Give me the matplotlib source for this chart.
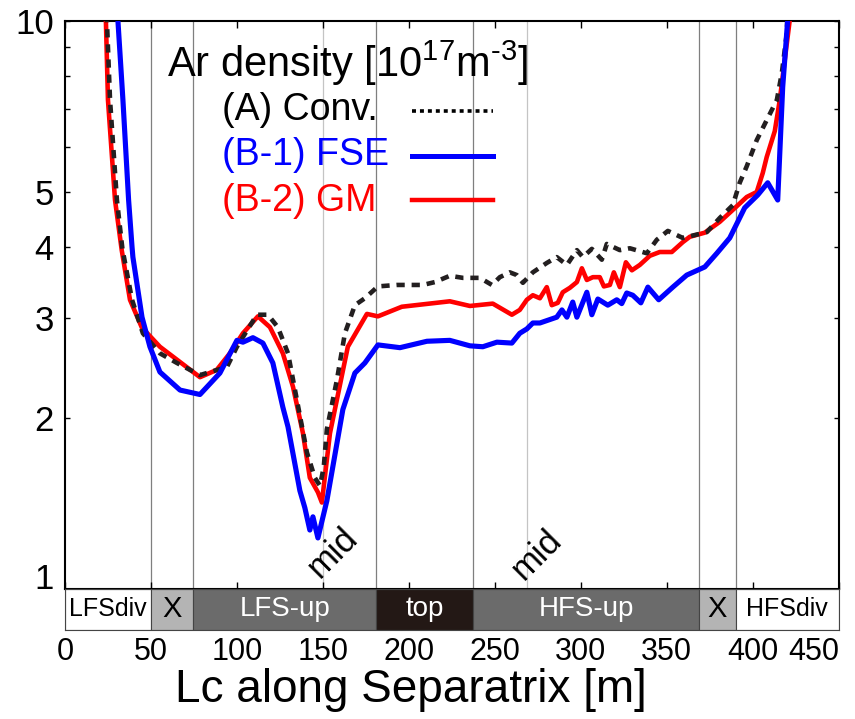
import matplotlib
matplotlib.use('Agg')
import matplotlib.pyplot as plt
from matplotlib.ticker import FixedLocator, NullFormatter

plt.rcParams['font.family'] = ['Liberation Sans', 'DejaVu Sans']
plt.rcParams['mathtext.default'] = 'regular'

# (A) Conv. 黒点線
conv_x = [23.5, 24.4, 26.2, 30.2, 33.4, 39.0, 45.3, 55.2, 65.1, 78.5, 88.4, 94.2, 100.0, 111.6, 118.0,
          123.8, 129.7, 134.9, 140.7, 145.3, 148.3, 150.5, 152.3, 158.1, 162.8, 168.6, 174.4, 182.0, 193.0,
          208.1, 215.1, 223.8, 231.4, 241.3, 248.3, 252.9, 258.7, 262.8, 266.3, 272.1, 280.2, 286.0, 291.9,
          297.7, 301.2, 306.4, 312.2, 315.1, 322.7, 328.5, 338.4, 344.2, 350.6, 359.3, 369.2, 373.3, 380.8,
          388.4, 392.4, 396.5, 402.3, 408.1, 414.0, 416.9, 419.8, 420.6]
conv_y = [11.5, 10.0, 7.26, 4.84, 3.97, 3.23, 2.82, 2.60, 2.50, 2.38, 2.43, 2.46, 2.67, 3.04, 3.04,
          2.89, 2.60, 2.15, 1.74, 1.57, 1.52, 1.64, 1.91, 2.33, 2.82, 3.16, 3.25, 3.41, 3.43,
          3.43, 3.47, 3.56, 3.53, 3.53, 3.43, 3.54, 3.61, 3.57, 3.46, 3.61, 3.75, 3.84, 3.72,
          3.95, 3.84, 3.97, 3.80, 4.05, 3.95, 3.98, 3.90, 4.12, 4.27, 4.15, 4.22, 4.25, 4.50,
          4.74, 5.19, 5.55, 6.17, 6.69, 7.26, 8.10, 9.52, 11.5]

# (B-1) FSE 青
fse_x = [30.2, 30.8, 33.7, 37.0, 39.0, 39.5, 44.8, 49.4, 55.2, 66.9, 78.5, 90.1, 100.0, 103.5, 109.3,
         115.1, 120.9, 126.7, 129.7, 136.6, 139.5, 142.4, 144.2, 147.1, 152.3, 161.6, 168.6, 174.4, 182.0,
         194.8, 210.5, 223.8, 235.5, 243.0, 251.2, 259.9, 264.5, 268.6, 272.1, 276.2, 286.0, 289.0, 291.9,
         295.3, 297.7, 303.5, 306.4, 309.9, 315.7, 320.9, 323.8, 326.7, 330.2, 334.9, 339.0, 345.3, 353.5,
         361.6, 372.1, 379.1, 386.6, 395.3, 402.9, 408.7, 414.5, 417.4, 420.3, 420.6]
fse_y = [11.5, 10.0, 7.26, 4.84, 4.00, 3.84, 3.01, 2.67, 2.41, 2.24, 2.20, 2.40, 2.74, 2.72, 2.77,
         2.71, 2.50, 2.09, 1.93, 1.49, 1.39, 1.27, 1.34, 1.23, 1.43, 2.07, 2.40, 2.50, 2.69,
         2.66, 2.73, 2.74, 2.68, 2.67, 2.72, 2.71, 2.82, 2.87, 2.94, 2.94, 3.01, 3.10, 3.01,
         3.20, 3.01, 3.33, 3.04, 3.24, 3.16, 3.23, 3.18, 3.32, 3.29, 3.19, 3.40, 3.23, 3.40,
         3.57, 3.69, 3.90, 4.15, 4.69, 4.94, 5.19, 4.84, 7.65, 10.04, 11.5]

# (B-2) GM 赤
gm_x = [22.5, 23.8, 25.0, 29.1, 33.0, 37.8, 44.6, 55.2, 78.5, 88.2, 95.9, 103.5, 112.2, 119.2, 126.7,
        132.6, 138.4, 142.4, 147.1, 149.4, 154.1, 164.5, 175.6, 182.0, 195.9, 223.8, 235.5, 248.8, 259.9,
        264.5, 268.6, 272.1, 276.2, 280.2, 283.1, 286.6, 289.5, 293.6, 297.7, 300.6, 303.5, 307.0, 311.0,
        313.4, 316.9, 319.2, 322.7, 326.2, 329.7, 334.3, 340.1, 345.9, 352.9, 359.3, 363.4, 372.1, 380.8,
        388.4, 396.5, 402.3, 405.8, 408.1, 412.8, 415.7, 418.6, 421.5, 422.5]
gm_y = [11.5, 10.0, 7.26, 4.84, 3.95, 3.23, 2.89, 2.67, 2.36, 2.43, 2.60, 2.82, 3.02, 2.89, 2.60,
        2.27, 1.88, 1.57, 1.48, 1.42, 1.88, 2.67, 3.05, 3.02, 3.14, 3.21, 3.15, 3.18, 3.04,
        3.10, 3.23, 3.29, 3.25, 3.40, 3.16, 3.19, 3.33, 3.39, 3.47, 3.67, 3.50, 3.54, 3.54,
        3.41, 3.43, 3.61, 3.40, 3.76, 3.64, 3.72, 3.86, 3.92, 3.92, 4.08, 4.17, 4.24, 4.43,
        4.65, 4.90, 5.00, 5.40, 5.76, 6.40, 7.26, 8.54, 10.04, 11.5]

# 領域区分（下の帯）
region_names = ['LFSdiv', 'X', 'LFS-up', 'top', 'HFS-up', 'X', 'HFSdiv']
region_edges = [0, 50, 74.5, 181, 237.5, 369, 390, 450]
region_face = ['white', '#b4b4b4', '#6b6b6b', '#231815', '#6b6b6b', '#b4b4b4', 'white']
region_text = ['black', 'black', 'white', 'white', 'white', 'black', 'black']
region_size = [18, 21, 20, 20, 20, 21, 18]
mid_pos = [150, 268.5]

fig = plt.figure(figsize=(8.55, 7.19), dpi=100)
ax = fig.add_axes([0.076, 0.1808, 0.905, 0.79])
bax = fig.add_axes([0.076, 0.1238, 0.905, 0.057])

# 境界線
for xb in region_edges[1:-1]:
    ax.axvline(xb, color='#7f7f7f', lw=0.9, zorder=1)
for xm in mid_pos:
    ax.axvline(xm, color='#c4c4c4', lw=0.9, zorder=1)

ax.plot(gm_x, gm_y, color='#ff0000', lw=3.3, zorder=3)
ax.plot(conv_x, conv_y, color='#231f20', lw=3.3, ls=(0, (1.8, 1.5)), zorder=4)
ax.plot(fse_x, fse_y, color='#0000ff', lw=3.7, zorder=5)

ax.set_xlim(0, 450)
ax.set_yscale('log')
ax.set_ylim(1, 10)
ax.yaxis.set_major_locator(FixedLocator([1, 2, 3, 4, 5, 10]))
ax.yaxis.set_minor_locator(FixedLocator([6, 7, 8, 9]))
ax.set_yticklabels(['1', '2', '3', '4', '5', '10'])
ax.yaxis.set_minor_formatter(NullFormatter())
ax.set_xticks(range(0, 451, 50))
ax.tick_params(axis='x', direction='in', top=True, bottom=True, length=5, width=1,
               labelbottom=False)
ax.tick_params(axis='y', which='both', direction='in', left=True, right=True, length=3.5,
               width=1, labelsize=25, pad=8)
ax.get_yticklabels()[0].set_va('baseline')
for s in ax.spines.values():
    s.set_linewidth(1.5)

# mid ラベル
ax.text(155.8, 1.16, 'mid', rotation=45, ha='center', va='center', fontsize=25, zorder=6)
ax.text(274.4, 1.15, 'mid', rotation=45, ha='center', va='center', fontsize=25, zorder=6)

# 凡例
ax.text(0.132, 0.926, 'Ar density [10$^{17}$m$^{\u20103}$]', transform=ax.transAxes,
        ha='left', va='center', fontsize=30)
ax.text(0.203, 0.843, '(A) Conv.', transform=ax.transAxes, ha='left', va='center',
        fontsize=27, color='black')
ax.text(0.203, 0.764, '(B-1) FSE', transform=ax.transAxes, ha='left', va='center',
        fontsize=27, color='#0000ff')
ax.text(0.203, 0.683, '(B-2) GM', transform=ax.transAxes, ha='left', va='center',
        fontsize=27, color='#ff0000')
ax.plot([0.448, 0.553], [0.8415, 0.8415], transform=ax.transAxes, color='black', lw=2.6,
        ls=(0, (1.1, 1.1)))
ax.plot([0.448, 0.553], [0.762, 0.762], transform=ax.transAxes, color='#0000ff', lw=3.6)
ax.plot([0.448, 0.553], [0.685, 0.685], transform=ax.transAxes, color='#ff0000', lw=3.2)

# 下の帯
for i, name in enumerate(region_names):
    lo, hi = region_edges[i], region_edges[i + 1]
    bax.axvspan(lo, hi, facecolor=region_face[i], edgecolor='#444444', lw=0.8)
    bax.text((lo + hi) / 2, 0.5, name, ha='center', va='center', color=region_text[i],
             fontsize=region_size[i])
bax.set_xlim(0, 450)
bax.set_ylim(0, 1)
bax.set_yticks([])
bax.set_xticks(range(0, 451, 50))
bax.tick_params(axis='x', length=0, labelsize=22, pad=5)
bax.get_xticklabels()[-1].set_ha('right')
for s in bax.spines.values():
    s.set_linewidth(0.8)
    s.set_color('#444444')

bax.set_xlabel('Lc along Separatrix [m]', fontsize=33)
bax.xaxis.set_label_coords(0.447, -0.92)

fig.savefig('out.png', dpi=100)
